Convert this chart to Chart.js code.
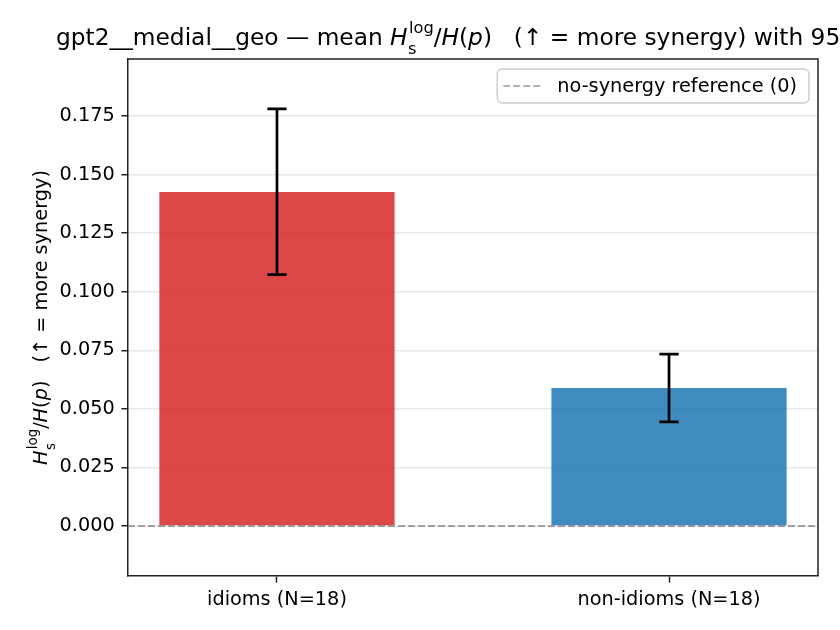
<!DOCTYPE html>
<html><head><meta charset="utf-8">
<script src="https://cdn.jsdelivr.net/npm/chart.js@4.4.0/dist/chart.umd.min.js"></script>
<style>html,body{margin:0;padding:0;background:#fff}canvas{display:block}</style>
</head><body>
<canvas id="c" width="840" height="630"></canvas>
<script>
const categories = ['idioms (N=18)', 'non-idioms (N=18)'];
const meanValues = [0.1426, 0.0589];
const ciLow = [0.1073, 0.0445];
const ciHigh = [0.1780, 0.0734];
const barColors = ['rgba(214,39,40,0.85)', 'rgba(31,119,180,0.85)'];
const yTickValues = [0, 0.025, 0.05, 0.075, 0.1, 0.125, 0.15, 0.175];
const referenceValue = 0;
const titlePrefix = 'gpt2__medial__geo \u2014 mean ';
const titleSuffix = '  (\u2191 = more synergy) with 95% CI';
const yLabelSuffix = '  (\u2191 = more synergy)';
const legendLabel = 'no-synergy reference (0)';

const FAMILY = '"DejaVu Sans", sans-serif';
const TICK_SIZE = 19.3;
const TITLE_SIZE = 23.3;

function fontStr(size, italic){ return (italic ? 'italic ' : '') + size + 'px ' + FAMILY; }
function mathSegs(){
  return [{t:'H',it:true},{sup:'log',sub:'s'},{t:'/'},{t:'H',it:true},{t:'('},{t:'p',it:true},{t:')'},{gap:0.3}];
}
function segWidth(ctx, s, size){
  if (s.gap !== undefined) return s.gap*size;
  if (s.sup !== undefined){
    ctx.font = fontStr(size*0.7,false);
    return Math.max(ctx.measureText(s.sup).width, ctx.measureText(s.sub).width) + size*0.05;
  }
  ctx.font = fontStr(size, !!s.it);
  return ctx.measureText(s.t).width;
}
function seqWidth(ctx, segs, size){ return segs.reduce((a,s)=>a+segWidth(ctx,s,size),0); }
function drawSeq(ctx, segs, x, y, size){
  ctx.textAlign='left'; ctx.textBaseline='alphabetic';
  for (const s of segs){
    const w = segWidth(ctx, s, size);
    if (s.gap !== undefined){ x += w; continue; }
    if (s.sup !== undefined){
      ctx.font = fontStr(size*0.7,false);
      ctx.fillText(s.sup, x+size*0.06, y - size*0.53);
      ctx.fillText(s.sub, x+size*0.02, y + size*0.40);
    } else {
      ctx.font = fontStr(size, !!s.it);
      ctx.fillText(s.t, x, y);
    }
    x += w;
  }
}

const overlay = {
  id:'overlay',
  afterDraw(chart){
    const ctx = chart.ctx, a = chart.chartArea;
    const xs = chart.scales.x, ys = chart.scales.y;
    ctx.save();
    // top & right spines
    ctx.strokeStyle='#222'; ctx.lineWidth=1.5; ctx.setLineDash([]);
    ctx.beginPath();
    ctx.moveTo(a.left, a.top); ctx.lineTo(a.right, a.top); ctx.lineTo(a.right, a.bottom);
    ctx.stroke();
    // reference line
    const y0 = ys.getPixelForValue(referenceValue);
    ctx.strokeStyle='rgba(128,128,128,0.8)'; ctx.lineWidth=1.7; ctx.setLineDash([7,3]);
    ctx.beginPath(); ctx.moveTo(a.left, y0); ctx.lineTo(a.right, y0); ctx.stroke();
    ctx.setLineDash([]);
    // error bars
    ctx.strokeStyle='#000'; ctx.lineWidth=2.7;
    categories.forEach((c,i)=>{
      const px = xs.getPixelForValue(i);
      const lo = ys.getPixelForValue(ciLow[i]), hi = ys.getPixelForValue(ciHigh[i]);
      const cap = 9.6;
      ctx.beginPath();
      ctx.moveTo(px, lo); ctx.lineTo(px, hi);
      ctx.moveTo(px-cap, lo); ctx.lineTo(px+cap, lo);
      ctx.moveTo(px-cap, hi); ctx.lineTo(px+cap, hi);
      ctx.stroke();
    });
    // legend
    ctx.font = fontStr(TICK_SIZE,false);
    const tw = ctx.measureText(legendLabel).width;
    const bw = 6 + 39 + 15 + tw + 12, bh = 34;
    const bx = a.right - 9 - bw, by = a.top + 10;
    ctx.fillStyle='rgba(255,255,255,0.8)'; ctx.strokeStyle='#cccccc'; ctx.lineWidth=1.4;
    ctx.beginPath(); ctx.roundRect(bx, by, bw, bh, 5); ctx.fill(); ctx.stroke();
    const ly = by + bh/2;
    ctx.strokeStyle='rgba(128,128,128,0.8)'; ctx.lineWidth=1.7; ctx.setLineDash([7,3]);
    ctx.beginPath(); ctx.moveTo(bx+6, ly); ctx.lineTo(bx+45, ly); ctx.stroke();
    ctx.setLineDash([]);
    ctx.fillStyle='#000'; ctx.textAlign='left'; ctx.textBaseline='middle';
    ctx.font = fontStr(TICK_SIZE,false);
    ctx.fillText(legendLabel, bx+60, ly+1);
    // title (left edge as in the reference, overflowing the right edge)
    const tsegs = [{t:titlePrefix}].concat(mathSegs(), [{t:titleSuffix}]);
    ctx.fillStyle='#000';
    drawSeq(ctx, tsegs, 56, 45, TITLE_SIZE);
    // y label
    const ysegs = mathSegs().concat([{t:yLabelSuffix}]);
    const YW = seqWidth(ctx, ysegs, TICK_SIZE);
    ctx.save();
    ctx.translate(47, (a.top+a.bottom)/2);
    ctx.rotate(-Math.PI/2);
    drawSeq(ctx, ysegs, -YW/2, 0, TICK_SIZE);
    ctx.restore();
    ctx.restore();
  }
};

new Chart(document.getElementById('c'), {
  type:'bar',
  data:{ datasets:[{
    data: categories.map((c,i)=>({x:i, y:meanValues[i]})),
    backgroundColor: barColors, borderWidth:0,
    barPercentage:0.6, categoryPercentage:1.0
  }]},
  options:{
    responsive:false, animation:false, devicePixelRatio:1,
    layout:{padding:{top:59, right:22, left:0, bottom:0}},
    plugins:{legend:{display:false}, tooltip:{enabled:false}, title:{display:false}},
    scales:{
      x:{ type:'linear', min:-0.38, max:1.38, offset:false,
        afterBuildTicks: s => { s.ticks = categories.map((c,i)=>({value:i})); },
        afterFit: s => { s.height = 54; },
        ticks:{ callback: v => categories[v], font:{family:FAMILY, size:TICK_SIZE}, color:'#000', padding:6, maxRotation:0, autoSkip:false },
        grid:{ display:true, offset:false, drawOnChartArea:false, drawTicks:true, tickLength:6.6, tickColor:'#222', tickWidth:1.5 },
        border:{ display:true, color:'#222', width:1.5 }
      },
      y:{ min:-0.0213, max:0.1993, z:1,
        afterBuildTicks: s => { s.ticks = yTickValues.map(v=>({value:v})); },
        afterFit: s => { s.width = 128; },
        ticks:{ callback: v => Number(v).toFixed(3), font:{family:FAMILY, size:TICK_SIZE}, color:'#000', padding:6.6 },
        grid:{ color:'rgba(176,176,176,0.3)', lineWidth:1.5, tickColor:'#222', tickLength:6.6, tickWidth:1.5 },
        border:{ color:'#222', width:1.5 }
      }
    }
  },
  plugins:[overlay]
});
</script>
</body></html>
